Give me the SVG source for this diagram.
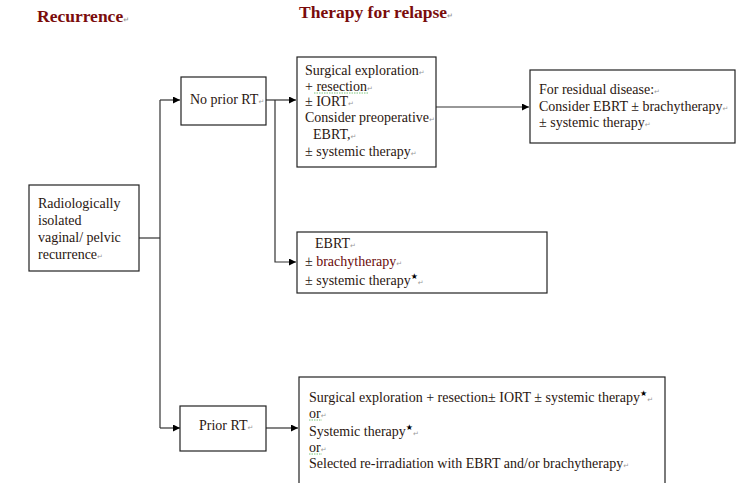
<svg xmlns="http://www.w3.org/2000/svg" width="736" height="483" viewBox="0 0 736 483">
  <defs>
    <marker id="arr" viewBox="0 0 10 10" refX="10" refY="5" markerWidth="7" markerHeight="7" markerUnits="userSpaceOnUse" orient="auto">
      <path d="M0,0 L10,5 L0,10 z" fill="#000"/>
    </marker>
    <style>
      .box { fill: #fff; stroke: #222; stroke-width: 1.2; }
      .t { font-family: "Liberation Serif", "Times New Roman", serif; font-size: 14px; fill: #2a1610; }
      .red { fill: #6a0a0a; }
      .hd { font-family: "Liberation Serif", "Times New Roman", serif; font-size: 17.5px; font-weight: bold; fill: #7a0c0c; }
      .pm { font-family: "DejaVu Sans", sans-serif; font-size: 7px; fill: #9a9a9a; }
      .st { font-family: "DejaVu Sans", sans-serif; font-size: 8px; fill: #000; }
      .ln { fill: none; stroke: #333; stroke-width: 1.2; }
      .sq { fill: none; stroke: #5cb85c; stroke-width: 0.8; stroke-dasharray: 1.5 1; }
    </style>
  </defs>

  <!-- column headings -->
  <text class="hd" x="37" y="22">Recurrence<tspan class="pm">↵</tspan></text>
  <text class="hd" x="299" y="18">Therapy for relapse<tspan class="pm">↵</tspan></text>

  <!-- connectors -->
  <g id="connectors">
    <path class="ln" d="M139,238 H160"/>
    <path class="ln" d="M160,100 V428"/>
    <path class="ln" d="M160,100 H180" marker-end="url(#arr)"/>
    <path class="ln" d="M160,428 H180" marker-end="url(#arr)"/>
    <path class="ln" d="M266,100 H296" marker-end="url(#arr)"/>
    <path class="ln" d="M275,100 V262 H296" marker-end="url(#arr)"/>
    <path class="ln" d="M436,107 H529" marker-end="url(#arr)"/>
    <path class="ln" d="M266,428 H298" marker-end="url(#arr)"/>
  </g>

  <g id="recurrence">
    <rect class="box" x="29" y="185" width="110" height="86"/>
    <text class="t" x="38" y="208">Radiologically</text>
    <text class="t" x="38" y="225">isolated</text>
    <text class="t" x="38" y="242">vaginal/ pelvic</text>
    <text class="t" x="38" y="259">recurrence<tspan class="pm">↵</tspan></text>
  </g>

  <g id="no-prior-rt">
    <rect class="box" x="181" y="77" width="85" height="48"/>
    <text class="t" x="190" y="104">No prior RT<tspan class="pm">↵</tspan></text>
  </g>

  <g id="prior-rt">
    <rect class="box" x="180" y="406" width="86" height="45"/>
    <text class="t" x="199" y="430">Prior RT<tspan class="pm">↵</tspan></text>
  </g>

  <g id="surgical">
    <rect class="box" x="297" y="57" width="139" height="110"/>
    <text class="t" x="305" y="75">Surgical  exploration<tspan class="pm">↵</tspan></text>
    <text class="t" x="305" y="91">+ resection<tspan class="pm">↵</tspan></text>
    <path class="sq" d="M314,93 H368"/>
    <text class="t" x="305" y="106">± IORT<tspan class="pm">↵</tspan></text>
    <text class="t" x="305" y="122">Consider preoperative<tspan class="pm">↵</tspan></text>
    <text class="t" x="313" y="139">EBRT,<tspan class="pm">↵</tspan></text>
    <text class="t" x="305" y="156">±  systemic therapy<tspan class="pm">↵</tspan></text>
  </g>

  <g id="residual">
    <rect class="box" x="530" y="70" width="205" height="73"/>
    <text class="t" x="539" y="94">For residual disease:<tspan class="pm">↵</tspan></text>
    <text class="t" x="539" y="111">Consider EBRT ± brachytherapy<tspan class="pm">↵</tspan></text>
    <text class="t" x="539" y="127">±  systemic therapy<tspan class="pm">↵</tspan></text>
  </g>

  <g id="ebrt">
    <rect class="box" x="297" y="232" width="250" height="61"/>
    <text class="t" x="315" y="248">EBRT<tspan class="pm">↵</tspan></text>
    <text class="t" x="305" y="266">±  <tspan class="red">brachytherapy</tspan><tspan class="pm">↵</tspan></text>
    <text class="t" x="305" y="285">±  systemic therapy<tspan class="st" dy="-6">★</tspan><tspan class="pm" dy="6">↵</tspan></text>
  </g>

  <g id="prior-options">
    <rect class="box" x="299" y="377" width="366" height="120"/>
    <text class="t" x="309" y="402">Surgical  exploration + resection± IORT ± systemic therapy<tspan class="st" dy="-6">★</tspan><tspan class="pm" dy="6">↵</tspan></text>
    <text class="t" x="309" y="418">or<tspan class="pm">↵</tspan></text>
    <path class="sq" d="M309,420 H322"/>
    <text class="t" x="309" y="436">Systemic therapy<tspan class="st" dy="-6">★</tspan><tspan class="pm" dy="6">↵</tspan></text>
    <text class="t" x="309" y="452">or<tspan class="pm">↵</tspan></text>
    <path class="sq" d="M309,454 H322"/>
    <text class="t" x="309" y="468">Selected re-irradiation with EBRT and/or brachytherapy<tspan class="pm">↵</tspan></text>
  </g>
</svg>
